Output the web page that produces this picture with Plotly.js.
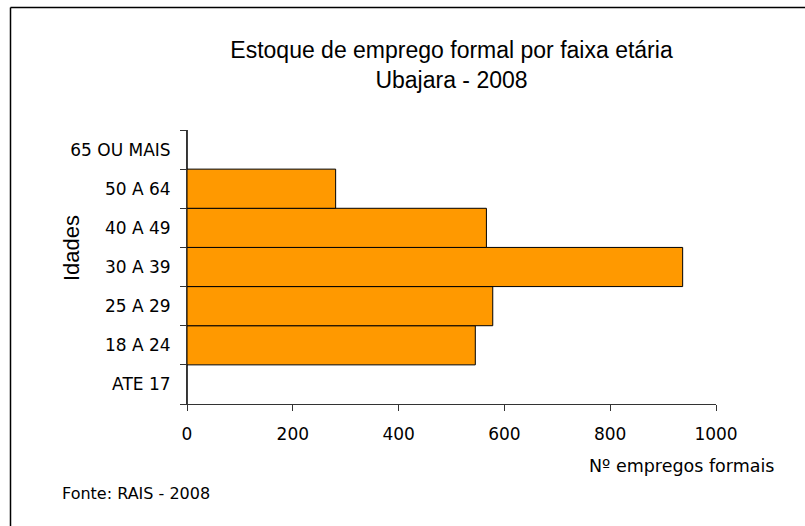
<!DOCTYPE html>
<html>
<head>
<meta charset="utf-8">
<script src="https://cdn.plot.ly/plotly-3.0.1.min.js"></script>
<style>html,body{margin:0;padding:0;background:#fff;}#chart{width:805px;height:526px;}</style>
</head>
<body>
<div id="chart"></div>
<script>
const categories = ["ATE 17", "18 A 24", "25 A 29", "30 A 39", "40 A 49", "50 A 64", "65 OU MAIS"];
const empregos = [0, 545, 578, 937, 566, 281, 0];
const xTicks = [0, 200, 400, 600, 800, 1000];
const titleText = "Estoque de emprego formal por faixa etária<br>Ubajara - 2008";
const xTitle = "Nº empregos formais";
const yTitle = "Idades";
const footnote = "Fonte: RAIS - 2008";

const W = 805, H = 526;
const m = {l: 187, r: 89, t: 130, b: 122};
const pw = W - m.l - m.r, ph = H - m.t - m.b;
const px = v => (v - m.l) / pw;
const py = v => 1 - (v - m.t) / ph;

const trace = {
  type: "bar",
  orientation: "h",
  y: categories,
  x: empregos,
  marker: {color: "#FF9900", line: {color: "#000000", width: 1}},
  hoverinfo: "x+y"
};

const layout = {
  width: W, height: H,
  margin: m,
  paper_bgcolor: "#ffffff",
  plot_bgcolor: "#ffffff",
  showlegend: false,
  bargap: 0,
  title: {
    text: titleText,
    font: {family: "Liberation Sans, Arial, sans-serif", size: 23, color: "#000"},
    x: 0.5, xref: "paper", xanchor: "center",
    y: 1 - 58 / H, yref: "container", yanchor: "top"
  },
  xaxis: {
    range: [0, 1000],
    tickvals: xTicks,
    ticktext: xTicks.map(String),
    showgrid: false, zeroline: false,
    showline: true, linecolor: "#333", linewidth: 1,
    ticks: "outside", ticklen: 6, tickcolor: "#333",
    ticklabelstandoff: 9,
    tickfont: {family: "DejaVu Sans, sans-serif", size: 17, color: "#000"},
    fixedrange: true
  },
  yaxis: {
    type: "category",
    categoryorder: "array",
    categoryarray: categories,
    showgrid: false, zeroline: false,
    showline: true, linecolor: "#333", linewidth: 1,
    ticks: "outside", ticklen: 6, tickcolor: "#333",
    tickson: "boundaries",
    ticklabelstandoff: 12,
    tickfont: {family: "DejaVu Sans, sans-serif", size: 17, color: "#000"},
    fixedrange: true
  },
  annotations: [
    {text: yTitle, xref: "paper", yref: "paper", x: px(71), y: py(248), xanchor: "center", yanchor: "middle",
     textangle: -90, showarrow: false, font: {family: "Liberation Sans, Arial, sans-serif", size: 22, color: "#000"}},
    {text: xTitle, xref: "paper", yref: "paper", x: px(776), y: py(466), xanchor: "right", yanchor: "middle",
     showarrow: false, font: {family: "DejaVu Sans, sans-serif", size: 17.5, color: "#000"}},
    {text: footnote, xref: "paper", yref: "paper", x: px(60), y: py(493), xanchor: "left", yanchor: "middle",
     showarrow: false, font: {family: "DejaVu Sans, sans-serif", size: 16, color: "#000"}}
  ],
  shapes: [
    {type: "line", xref: "paper", yref: "paper", x0: px(10.5), x1: px(820), y0: py(7.5), y1: py(7.5), line: {color: "#000", width: 1.5}},
    {type: "line", xref: "paper", yref: "paper", x0: px(10.5), x1: px(10.5), y0: py(7.5), y1: py(540), line: {color: "#000", width: 1.5}}
  ]
};

Plotly.newPlot("chart", [trace], layout, {displayModeBar: false, staticPlot: true});
</script>
</body>
</html>
